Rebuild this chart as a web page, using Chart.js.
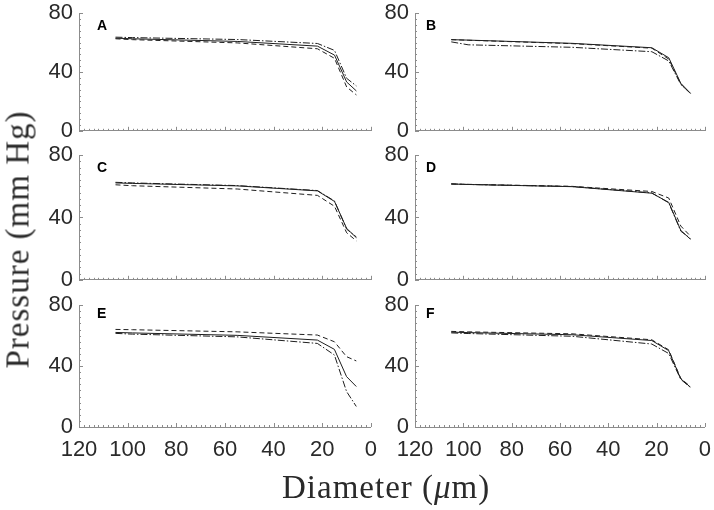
<!DOCTYPE html>
<html>
<head>
<meta charset="utf-8">
<script src="https://cdn.jsdelivr.net/npm/chart.js@4.4.1/dist/chart.umd.min.js"></script>
<style>
  body { margin: 0; background: #fff; }
  #wrap { position: relative; width: 714px; height: 510px; overflow: hidden; }
  canvas { position: absolute; }
  .tag { position: absolute; font: bold 14px "Liberation Sans", Arial, sans-serif; color: #000; line-height: 14px; }
  .title { position: absolute; font-family: "Liberation Serif", "Times New Roman", serif; font-size: 33px; letter-spacing: 1px; color: #2a2a2a; white-space: nowrap; line-height: 33px; }
</style>
</head>
<body>
<div id="wrap"></div>
<script>
// diameters (um) where each curve has a point
const diameters = [105, 98, 55, 22, 15, 10, 6]
const xTicks = [120, 100, 80, 60, 40, 20, 0]
const yTicks = [0, 40, 80]

const aSolid   = [63.0, 62.6, 60.8, 57.6, 51.5, 33.2, 27.1]
const aDashed  = [62.6, 62.0, 59.8, 55.8, 49.3, 29.8, 24.4]
const aDashDot = [63.7, 63.4, 62.1, 59.4, 54.7, 35.7, 30.5]

const bSolid   = [62.0, 61.7, 59.5, 56.5, 49.7, 32.3, 25.5]
const bDashed  = [62.0, 61.6, 59.3, 56.2, 48.8, 31.8, 25.3]
const bDashDot = [60.5, 58.5, 56.8, 53.8, 47.5, 31.5, 25.5]

const cSolid   = [62.2, 61.9, 60.3, 57.1, 50.3, 33.0, 27.0]
const cDashed  = [61.0, 60.4, 58.3, 54.2, 47.2, 30.2, 25.0]
const cDashDot = [62.6, 62.2, 60.5, 57.3, 50.6, 32.5, 27.5]

const dSolid   = [61.5, 61.2, 59.8, 55.6, 49.7, 31.7, 26.0]
const dDashed  = [61.5, 61.3, 60.0, 56.7, 52.5, 34.5, 28.0]
const dDashDot = [61.6, 61.2, 59.9, 55.8, 49.4, 31.2, 26.5]

const eSolid   = [62.1, 61.8, 60.2, 57.1, 51.0, 33.1, 26.6]
const eDashed  = [64.1, 63.9, 62.5, 60.4, 56.0, 46.2, 43.4]
const eDashDot = [61.5, 61.0, 59.2, 54.9, 47.3, 23.3, 13.5]

const fSolid   = [62.3, 62.0, 60.6, 56.8, 50.2, 31.7, 26.2]
const fDashed  = [62.8, 62.5, 61.2, 57.3, 50.7, 32.0, 26.5]
const fDashDot = [61.8, 61.4, 59.6, 54.5, 48.3, 31.3, 26.0]

const axisColor = "#8c8c8c"
const lineColor = "#1e1e1e"
const tickFont = { family: "Liberation Sans, Arial, sans-serif", size: 22 }

// plot rectangles: columns [left, right], rows [top, bottom]
const cols = [[79, 371], [415, 705]]
const rows = [[13, 131], [155, 280], [305, 427]]

const panels = [
    { tag: "A", col: 0, row: 0, series: [aSolid, aDashed, aDashDot] },
    { tag: "B", col: 1, row: 0, series: [bSolid, bDashed, bDashDot] },
    { tag: "C", col: 0, row: 1, series: [cSolid, cDashed, cDashDot] },
    { tag: "D", col: 1, row: 1, series: [dSolid, dDashed, dDashDot] },
    { tag: "E", col: 0, row: 2, series: [eSolid, eDashed, eDashDot] },
    { tag: "F", col: 1, row: 2, series: [fSolid, fDashed, fDashDot] },
]

const dashes = [[], [5, 3], [7, 2, 1.5, 2]]

// MATLAB style inward ticks, major and minor
const innerTicks = {
    id: "innerTicks",
    afterDraw(chart) {
        const { ctx, scales: { x, y } } = chart
        ctx.save()
        ctx.strokeStyle = axisColor
        ctx.lineWidth = 1
        ctx.beginPath()
        for (let v = 0; v <= 120; v += 2) {
            const px = Math.round(x.getPixelForValue(v)) + 0.5
            const len = v % 20 === 0 ? 4 : 2
            ctx.moveTo(px, y.bottom)
            ctx.lineTo(px, y.bottom - len)
        }
        for (let v = 0; v <= 80; v += 4) {
            const py = Math.round(y.getPixelForValue(v)) + 0.5
            const len = v % 40 === 0 ? 4 : 2
            ctx.moveTo(x.left, py)
            ctx.lineTo(x.left + len, py)
        }
        ctx.stroke()
        ctx.restore()
    }
}

const wrap = document.getElementById("wrap")

panels.forEach(p => {
    const [left, right] = cols[p.col]
    const [top, bottom] = rows[p.row]
    const bottomRow = p.row === 2
    const xh = bottomRow ? 45 : 16

    const canvas = document.createElement("canvas")
    canvas.width = 70 + (right - left) + 14
    canvas.height = 16 + (bottom - top) + xh
    wrap.appendChild(canvas)

    const tag = document.createElement("div")
    tag.className = "tag"
    tag.textContent = p.tag
    tag.style.left = (left + (p.col === 0 ? 18 : 11)) + "px"
    tag.style.top = (top + (bottomRow ? 1 : 5)) + "px"
    wrap.appendChild(tag)

    const chart = new Chart(canvas, {
        type: "line",
        data: {
            datasets: p.series.map((vals, i) => ({
                data: diameters.map((d, k) => ({ x: d, y: vals[k] })),
                borderColor: lineColor,
                borderWidth: 1,
                borderDash: dashes[i],
                pointRadius: 0,
                tension: 0,
                fill: false
            }))
        },
        options: {
            responsive: false,
            maintainAspectRatio: false,
            animation: false,
            events: [],
            layout: { padding: { top: 16, right: 14 } },
            plugins: { legend: { display: false }, tooltip: { enabled: false } },
            scales: {
                x: {
                    type: "linear",
                    reverse: true,
                    min: 0,
                    max: 120,
                    bounds: "data",
                    afterFit(s) { s.height = xh },
                    afterBuildTicks(s) { s.ticks = xTicks.map(v => ({ value: v })) },
                    ticks: { display: bottomRow, autoSkip: false, maxRotation: 0, padding: 10, font: tickFont, color: "#2a2a2a" },
                    grid: { drawOnChartArea: false, drawTicks: false },
                    border: { color: axisColor, width: 1 }
                },
                y: {
                    min: 0,
                    max: 80,
                    afterFit(s) { s.width = 70 },
                    afterBuildTicks(s) { s.ticks = yTicks.map(v => ({ value: v })) },
                    ticks: { padding: 6, font: tickFont, color: "#2a2a2a" },
                    grid: { drawOnChartArea: false, drawTicks: false },
                    border: { color: axisColor, width: 1 }
                }
            }
        },
        plugins: [innerTicks]
    })

    // grow the canvas until the plot area has the wanted size, then place it
    for (let i = 0; i < 4; i++) {
        const a = chart.chartArea
        const dw = Math.round((right - left) - (a.right - a.left))
        const dh = Math.round((bottom - top) - (a.bottom - a.top))
        if (dw === 0 && dh === 0) break
        chart.resize(chart.width + dw, chart.height + dh)
    }
    canvas.style.left = (left - chart.chartArea.left) + "px"
    canvas.style.top = (top - chart.chartArea.top) + "px"
})

const yTitle = document.createElement("div")
yTitle.className = "title"
yTitle.textContent = "Pressure (mm Hg)"
wrap.appendChild(yTitle)
yTitle.style.left = (18 - yTitle.offsetWidth / 2) + "px"
yTitle.style.top = (239 - yTitle.offsetHeight / 2) + "px"
yTitle.style.transform = "rotate(-90deg)"

const xTitle = document.createElement("div")
xTitle.className = "title"
xTitle.innerHTML = "Diameter (<i>μ</i>m)"
wrap.appendChild(xTitle)
xTitle.style.left = (386 - xTitle.offsetWidth / 2) + "px"
xTitle.style.top = (487 - xTitle.offsetHeight / 2) + "px"
</script>
</body>
</html>
